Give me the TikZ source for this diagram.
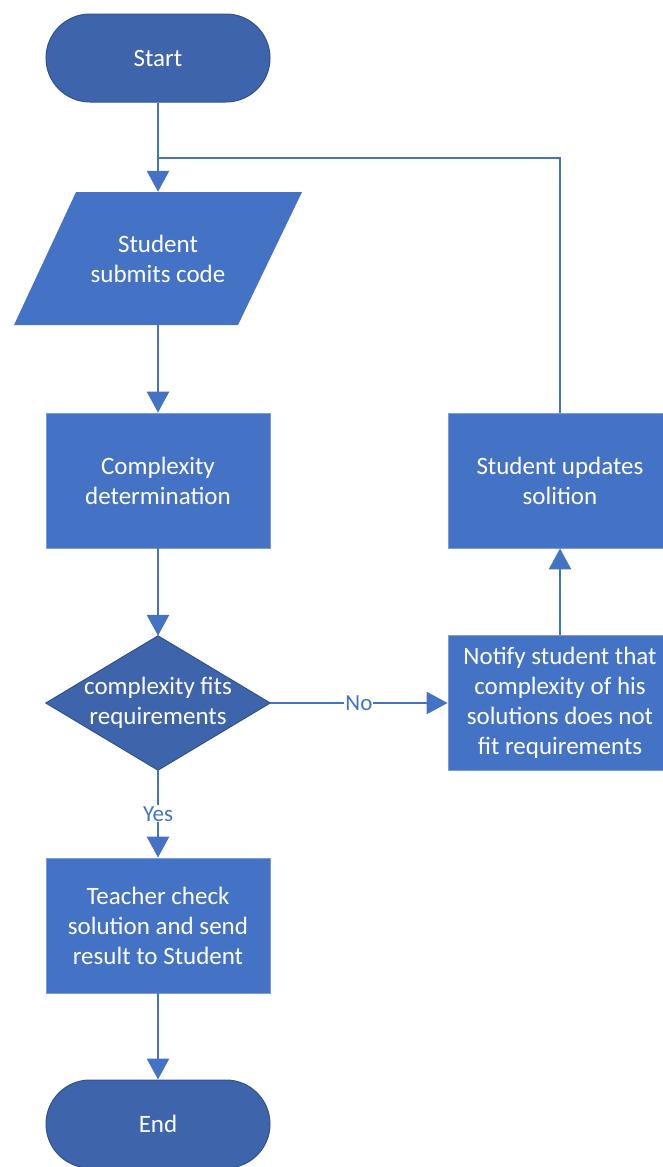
\documentclass[tikz,border=0pt]{standalone}
\usepackage{fontspec}
\setmainfont{Carlito}
\usetikzlibrary{arrows.meta}
\definecolor{proc}{HTML}{4472C4}
\definecolor{term}{HTML}{3E64AC}
\definecolor{termline}{HTML}{2F528F}
\tikzset{
  txt/.style={text=white, align=center, font=\fontsize{25}{30}\selectfont},
  procbox/.style={txt, fill=proc, draw=proc!70!white, line width=0.8pt, minimum width=224pt, minimum height=135pt, inner sep=0pt},
  termbox/.style={txt, fill=term, draw=termline, line width=1pt, minimum width=224pt, minimum height=88pt, rounded corners=44pt, inner sep=0pt},
  conn/.style={draw=proc, line width=2.8pt},
  arr/.style={conn, -{Triangle[length=21pt,width=22pt]}},
  lbl/.style={text=proc, fill=white, inner sep=1pt, font=\fontsize{23}{27}\selectfont}
}
\begin{document}
\begin{tikzpicture}[x=1pt,y=1pt]
\useasboundingbox (0,0) rectangle (662,-1167);
% nodes
\node[termbox] (start) at (158,-58) {Start};
\fill[proc] (76,-192) -- (302,-192) -- (238,-325) -- (14,-325) -- cycle;
\node[txt, minimum height=133pt, minimum width=10pt, inner sep=0pt] (submit) at (158,-258.5) {Student\\submits code};
\node[procbox] (cx) at (158,-480.5) {Complexity\\determination};
\node[txt, minimum width=224pt, minimum height=134pt, inner sep=0pt] (dia) at (158,-703) {};
\filldraw[fill=term, draw=termline, line width=1pt] (dia.north) -- (dia.east) -- (dia.south) -- (dia.west) -- cycle;
\node[txt] at (dia.center) {complexity fits\\requirements};
\node[procbox] (notify) at (560,-703) {Notify student that\\complexity of his\\solutions does not\\fit requirements};
\node[procbox] (upd) at (560,-480.5) {Student updates\\solition};
\node[procbox] (teacher) at (158,-925.5) {Teacher check\\solution and send\\result to Student};
\node[termbox] (end) at (158,-1124) {End};
\coordinate (j) at (158,-158);
% connectors
\draw[arr] (start.south) -- (submit.north);
\draw[conn] (upd.north) |- (j);
\draw[arr] (submit.south) -- (cx.north);
\draw[arr] (cx.south) -- (dia.north);
\draw[arr] (dia.east) -- node[lbl, pos=0.5] {No} (notify.west);
\draw[arr] (dia.south) -- node[lbl, pos=0.5] {Yes} (teacher.north);
\draw[arr] (notify.north) -- (upd.south);
\draw[arr] (teacher.south) -- (end.north);
\end{tikzpicture}
\end{document}
